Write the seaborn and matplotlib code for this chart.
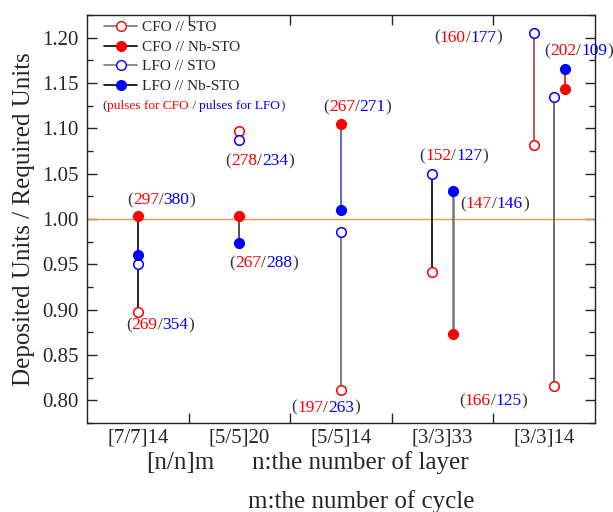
import matplotlib
matplotlib.use("Agg")
import matplotlib.pyplot as plt
import seaborn as sns
from matplotlib.lines import Line2D
from matplotlib.offsetbox import TextArea, HPacker, AnnotationBbox

categories = ['[7/7]14', '[5/5]20', '[5/5]14', '[3/3]33', '[3/3]14']

# open markers (on STO) share x positions, filled markers (on Nb-STO) share theirs
sto_x = [0, 1, 2, 2.9, 3.9, 4.1]
cfo_sto = [0.897, 1.097, 0.811, 0.942, 1.082, 0.816]
lfo_sto = [0.950, 1.087, 0.986, 1.050, 1.205, 1.135]

nb_x = [0, 1, 2, 3.1, 4.2]
cfo_nb = [1.003, 1.003, 1.105, 0.873, 1.143]
lfo_nb = [0.960, 0.974, 1.010, 1.031, 1.165]

# pulse labels (CFO / LFO) and where they sit
pulse_cfo = [297, 269, 278, 267, 267, 197, 152, 147, 160, 202, 166]
pulse_lfo = [380, 354, 234, 288, 271, 263, 127, 146, 177, 109, 125]
label_x = [0.23, 0.22, 1.20, 1.24, 2.16, 1.85, 3.11, 3.51, 3.25, 4.34, 3.50]
label_y = [1.021, 0.883, 1.064, 0.951, 1.123, 0.792, 1.069, 1.016, 1.200, 1.185, 0.799]

sto_line_colors = ['black', '#777777', '#666666', 'black', '#b03a3a', '#555555']
nb_line_colors = ['black', '#333333', '#5a68c0', '#777777', 'red']
nb_line_widths = [1.2, 1.2, 1.4, 1.8, 1.2]

sns.set_style("ticks")
plt.rcParams['font.family'] = ['Liberation Serif', 'DejaVu Serif']
plt.rcParams['mathtext.fontset'] = 'stix'

fig = plt.figure(figsize=(6.13, 5.12), dpi=100)
ax = fig.add_axes([87 / 613, 1 - 423 / 512, 508 / 613, 408 / 512])

ax.axhline(1.0, color='#e89a50', lw=1.0, zorder=1)

for x, a, b, c in zip(sto_x, cfo_sto, lfo_sto, sto_line_colors):
    ax.plot([x, x], [a, b], color=c, lw=1.2, zorder=2)
for x, a, b, c, w in zip(nb_x, cfo_nb, lfo_nb, nb_line_colors, nb_line_widths):
    ax.plot([x, x], [a, b], color=c, lw=w, zorder=2)

ms = 48
sns.scatterplot(x=sto_x, y=cfo_sto, ax=ax, s=ms, facecolor='white',
                edgecolor='red', linewidth=1.1, zorder=3)
sns.scatterplot(x=sto_x, y=lfo_sto, ax=ax, s=ms, facecolor='white',
                edgecolor='blue', linewidth=1.1, zorder=3)
sns.scatterplot(x=nb_x, y=cfo_nb, ax=ax, s=ms, color='red',
                edgecolor='red', linewidth=1.1, zorder=3)
sns.scatterplot(x=nb_x, y=lfo_nb, ax=ax, s=ms, color='blue',
                edgecolor='blue', linewidth=1.1, zorder=3)


def colored_text(parts, size):
    areas = [TextArea(t, textprops=dict(color=c, size=size,
                                        family='Liberation Serif'))
             for t, c in parts]
    return HPacker(children=areas, pad=0, sep=0, align='baseline')


for c, l, x, y in zip(pulse_cfo, pulse_lfo, label_x, label_y):
    box = colored_text([('(', '#333333'), (str(c), 'red'), ('/', '#333333'),
                        (str(l), 'blue'), (')', '#333333')], 12.5)
    ab = AnnotationBbox(box, (x, y), frameon=False, box_alignment=(0.5, 0.5),
                        pad=0, zorder=4)
    ax.add_artist(ab)

handles = [
    Line2D([], [], color='#777777', marker='o', mfc='white', mec='red', ms=7, lw=1.2),
    Line2D([], [], color='black', marker='o', mfc='red', mec='red', ms=7, lw=1.2),
    Line2D([], [], color='#777777', marker='o', mfc='white', mec='blue', ms=7, lw=1.2),
    Line2D([], [], color='black', marker='o', mfc='blue', mec='blue', ms=7, lw=1.2),
]
labels = ['CFO // STO', 'CFO // Nb-STO', 'LFO // STO', 'LFO // Nb-STO']
ax.legend(handles, labels, loc='upper left', bbox_to_anchor=(0.012, 1.012),
          frameon=False, fontsize=11, handlelength=2.2, handletextpad=0.3,
          labelspacing=0.38, borderaxespad=0.3)

note = colored_text([('(', '#333333'), ('pulses for CFO', 'red'), (' / ', '#333333'),
                     ('pulses for LFO', 'blue'), (')', '#333333')], 9.6)
ab = AnnotationBbox(note, (0.031, 0.777), xycoords='axes fraction', frameon=False,
                    box_alignment=(0, 0.5), pad=0)
ax.add_artist(ab)

ax.set_xlim(-0.5, 4.5)
ax.set_ylim(0.776, 1.225)
ax.set_xticks(range(len(categories)))
ax.set_xticklabels(categories)
ax.set_xticks([0.5, 1.5, 2.5, 3.5], minor=True)
ax.set_yticks([0.80, 0.85, 0.90, 0.95, 1.00, 1.05, 1.10, 1.15, 1.20])
ax.set_yticks([0.775 + 0.025 * i for i in range(19)], minor=True)
ax.yaxis.set_major_formatter(matplotlib.ticker.FormatStrFormatter('%.2f'))

ax.tick_params(axis='x', which='major', length=0, labelsize=15, pad=4)
ax.tick_params(axis='x', which='minor', direction='in', length=7, width=1,
               top=True, bottom=True)
ax.tick_params(axis='y', which='major', direction='in', length=7, width=1,
               left=True, right=True, labelsize=15, pad=6)
ax.tick_params(axis='y', which='minor', direction='in', length=4, width=1,
               left=True, right=True)
for s in ax.spines.values():
    s.set_color('#222222')
    s.set_linewidth(1.0)

ax.set_ylabel('Deposited Units / Required Units', fontsize=18, labelpad=5)

fig.text(180 / 613, 1 - 463 / 512, '[n/n]m', fontsize=18, ha='center', va='center')
fig.text(252 / 613, 1 - 463 / 512, 'n:the number of layer', fontsize=18, ha='left', va='center')
fig.text(248 / 613, 1 - 502 / 512, 'm:the number of cycle', fontsize=18, ha='left', va='center')

fig.savefig('out.png', dpi=100)
